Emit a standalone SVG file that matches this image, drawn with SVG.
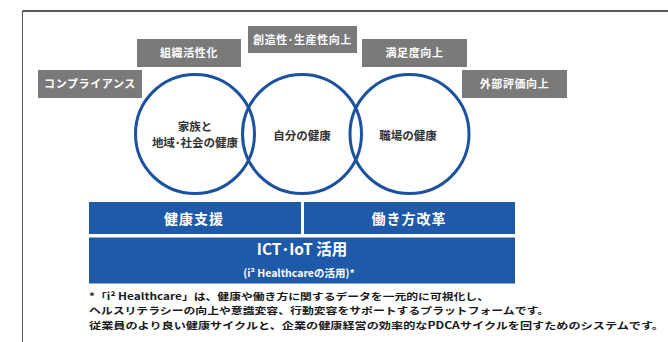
<svg xmlns="http://www.w3.org/2000/svg" width="668" height="342" viewBox="0 0 668 342">
<style>
text{font-family:"Noto Sans CJK JP","Noto Sans",sans-serif;}
.gbox{fill:#7a7a7a;}
.gtxt{fill:#ffffff;font-size:11px;font-weight:bold;text-anchor:middle;letter-spacing:0.6px;}
.circ{fill:none;stroke:#1b519e;stroke-width:3;}
.ctxt{fill:#333333;font-size:11.5px;font-weight:bold;text-anchor:middle;}
.bbox{fill:#1f5aa8;}
.btxt{fill:#ffffff;font-weight:bold;text-anchor:middle;}
.note{fill:#1a1a1a;font-size:9.6px;font-weight:bold;}
</style>
<rect width="668" height="342" fill="#ffffff"/>
<g id="frame">
<line x1="22.5" y1="11" x2="668" y2="11" stroke="#222" stroke-width="1.3"/>
<line x1="22.5" y1="11" x2="22.5" y2="342" stroke="#555" stroke-width="1"/>
</g>
<g id="connectors"></g>
<g id="tag-compliance"><rect class="gbox" x="38" y="70" width="104" height="28"/><text class="gtxt" x="90" y="88">コンプライアンス</text></g>
<g id="tag-org"><rect class="gbox" x="137" y="39" width="104" height="28"/><text class="gtxt" x="189" y="57">組織活性化</text></g>
<g id="tag-creativity"><rect class="gbox" x="248" y="26" width="109" height="27"/><text class="gtxt" x="302.5" y="43.5">創造性･生産性向上</text></g>
<g id="tag-satisfaction"><rect class="gbox" x="362" y="39" width="105" height="28"/><text class="gtxt" x="414.5" y="57">満足度向上</text></g>
<g id="tag-external"><rect class="gbox" x="462" y="70" width="105" height="28"/><text class="gtxt" x="514.5" y="88">外部評価向上</text></g>
<g id="circle-family"><circle class="circ" cx="195" cy="134" r="59.5"/><text class="ctxt" x="195" y="131">家族と</text><text class="ctxt" x="195" y="147">地域･社会の健康</text></g>
<g id="circle-self"><circle class="circ" cx="302" cy="134" r="59.5"/><text class="ctxt" x="302" y="140">自分の健康</text></g>
<g id="circle-work"><circle class="circ" cx="409.5" cy="134" r="59.5"/><text class="ctxt" x="408" y="140">職場の健康</text></g>
<g id="box-health"><rect class="bbox" x="89" y="202" width="212" height="32"/><text class="btxt" x="194" y="223.5" font-size="14" letter-spacing="1">健康支援</text></g>
<g id="box-work"><rect class="bbox" x="304" y="202" width="211" height="32"/><text class="btxt" x="409" y="223.5" font-size="14" letter-spacing="1">働き方改革</text></g>
<g id="box-ict"><rect class="bbox" x="89" y="237.5" width="426" height="46"/><text class="btxt" x="302" y="255" font-size="15.5">ICT･IoT 活用</text><text class="btxt" x="299" y="276.5" font-size="10.5">(i² Healthcareの活用)*</text></g>
<g id="footnote">
<text class="note" x="89" y="299.5" textLength="400" lengthAdjust="spacingAndGlyphs">*「i² Healthcare」は、健康や働き方に関するデータを一元的に可視化し、</text>
<text class="note" x="89" y="314" textLength="460" lengthAdjust="spacingAndGlyphs">ヘルスリテラシーの向上や意識変容、行動変容をサポートするプラットフォームです。</text>
<text class="note" x="89" y="328.5" textLength="575" lengthAdjust="spacingAndGlyphs">従業員のより良い健康サイクルと、企業の健康経営の効率的なPDCAサイクルを回すためのシステムです。</text>
</g>
</svg>
